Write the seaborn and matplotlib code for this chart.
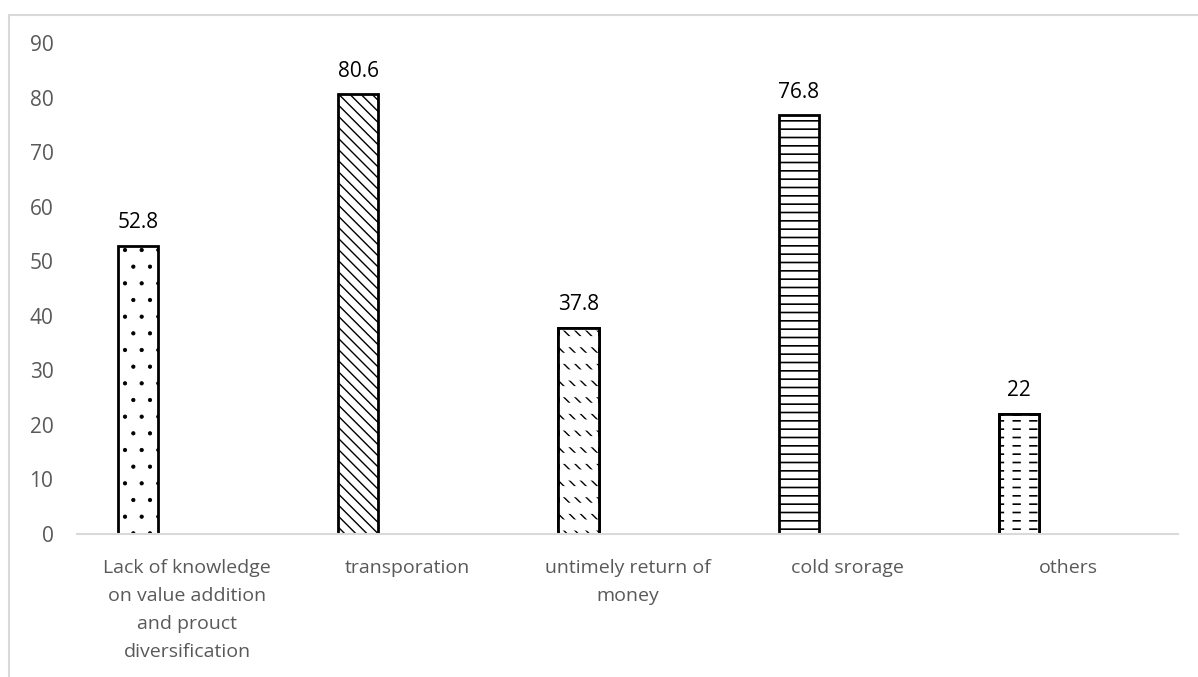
import matplotlib
matplotlib.use("Agg")
import matplotlib.pyplot as plt
import matplotlib.patches as mpatches
import seaborn as sns
import pandas as pd

# ---- data ----
categories = [
    "Lack of knowledge\non value addition\nand prouct\ndiversification",
    "transporation",
    "untimely return of\nmoney",
    "cold srorage",
    "others",
]
values = [52.8, 80.6, 37.8, 76.8, 22]
value_labels = ["52.8", "80.6", "37.8", "76.8", "22"]
y_ticks = [0, 10, 20, 30, 40, 50, 60, 70, 80, 90]

# ---- style ----
hatches = [".", "\\\\\\", "\\\\\\", "--", "--"]
hatch_lw = [0.6, 1.0, 1.0, 1.2, 1.2]
# white overlays that break the hatch lines into dashes (dashed patterns)
overlay_hatch = [None, None, "-", None, "|"]
overlay_lw = [0, 0, 8.0, 0, 6.0]

sns.set_theme(style="white")
plt.rcParams["font.family"] = ["Open Sans", "DejaVu Sans"]
plt.rcParams["hatch.linewidth"] = 1.0

W, H, DPI = 1198, 677, 100
fig = plt.figure(figsize=(W / DPI, H / DPI), dpi=DPI)
ax = fig.add_axes([77 / W, (H - 534) / H, (1178 - 77) / W, (534 - 43) / H])

df = pd.DataFrame({"cat": categories, "val": values})
sns.barplot(data=df, x="cat", y="val", ax=ax, width=0.182, color="white",
            edgecolor="black", linewidth=2.0, saturation=1)

shift = -0.2225
for i, p in enumerate(list(ax.patches)):
    p.set_x(p.get_x() + shift)
    p.set_hatch(hatches[i])
    if hasattr(p, "set_hatch_linewidth"):
        p.set_hatch_linewidth(hatch_lw[i])
    p.set_facecolor("white")
    if overlay_hatch[i]:
        ov = mpatches.Rectangle((p.get_x(), p.get_y()), p.get_width(), p.get_height(),
                                facecolor="none", edgecolor="white", linewidth=0,
                                hatch=overlay_hatch[i], zorder=p.get_zorder() + 0.1)
        if hasattr(ov, "set_hatch_linewidth"):
            ov.set_hatch_linewidth(overlay_lw[i])
        ax.add_patch(ov)
        br = mpatches.Rectangle((p.get_x(), p.get_y()), p.get_width(), p.get_height(),
                                facecolor="none", edgecolor="black", linewidth=2.0,
                                zorder=p.get_zorder() + 0.2)
        ax.add_patch(br)

ax.bar_label(ax.containers[0], labels=value_labels, padding=9, fontsize=15,
             color="#000000")

ax.set_ylim(0, 90)
ax.set_xlim(-0.5, len(categories) - 0.5)
ax.set_yticks(y_ticks)
ax.set_yticklabels([str(t) for t in y_ticks])
ax.set_xlabel("")
ax.set_ylabel("")
ax.tick_params(axis="both", length=0, labelcolor="#595959")
ax.tick_params(axis="y", pad=17, labelsize=15)
ax.tick_params(axis="x", pad=18, labelsize=14)
for lab in ax.get_xticklabels():
    lab.set_linespacing(1.72)
    lab.set_horizontalalignment("center")
for s in ["top", "right", "left"]:
    ax.spines[s].set_visible(False)
ax.spines["bottom"].set_color("#d9d9d9")
ax.spines["bottom"].set_linewidth(1.5)
ax.grid(False)

# chart-area border (left and top visible, right/bottom cropped)
fig.patches.append(mpatches.Rectangle((9 / W, -0.1), 1.2, (H - 15) / H + 0.1,
                                      transform=fig.transFigure, fill=False,
                                      edgecolor="#d9d9d9", linewidth=1.5))

fig.savefig("out.png", dpi=DPI)
